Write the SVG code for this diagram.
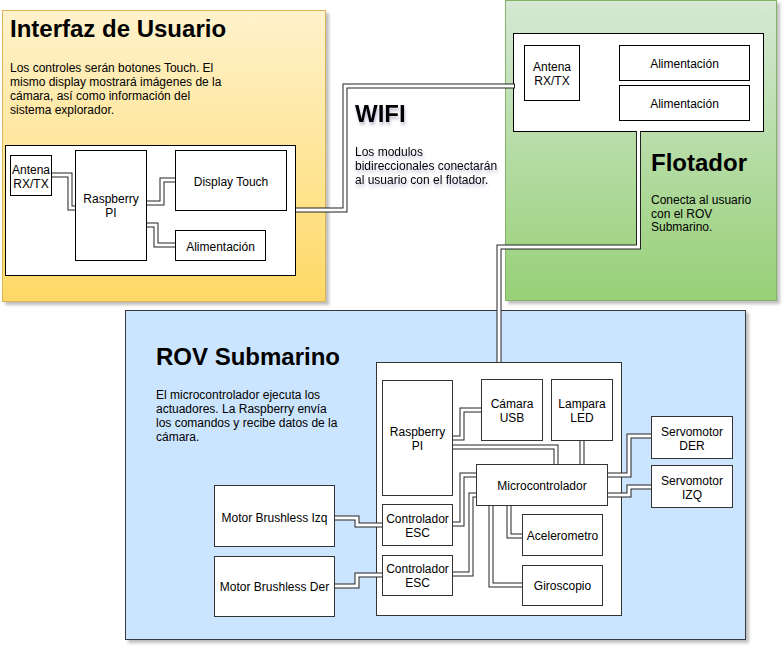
<svg xmlns="http://www.w3.org/2000/svg" width="783" height="648" viewBox="0 0 783 648">
<defs>
<linearGradient id="gYellow" x1="0" y1="0" x2="0" y2="1"><stop offset="0" stop-color="#fff2cc"/><stop offset="1" stop-color="#ffd966"/></linearGradient>
<linearGradient id="gGreen" x1="0" y1="0" x2="0" y2="1"><stop offset="0" stop-color="#d5e8d4"/><stop offset="1" stop-color="#97d077"/></linearGradient>
<filter id="shadow" x="-5%" y="-5%" width="110%" height="110%"><feDropShadow dx="3" dy="3" stdDeviation="1.5" flood-color="#000" flood-opacity="0.25"/></filter>
<filter id="tshadow" x="-10%" y="-20%" width="130%" height="150%"><feDropShadow dx="1" dy="3" stdDeviation="1.5" flood-color="#4a4a80" flood-opacity="0.35"/></filter>
</defs>
<style>
text{font-family:"Liberation Sans",Arial,sans-serif;fill:#000}
.h{font-size:24px;font-weight:bold}
.b{font-size:12px}
.n{font-size:12px;text-anchor:middle}
.box{fill:#fff;stroke:#000;stroke-width:1}
.rbox{fill:#fff;stroke:#333;stroke-width:1}
.lo{fill:none;stroke:#222;stroke-width:5;stroke-linejoin:miter}
.li{fill:none;stroke:#fff;stroke-width:3;stroke-linejoin:miter}
</style>

<g id="panel-interfaz">
<rect x="2.5" y="10.5" width="323" height="291" fill="url(#gYellow)" stroke="#d6b656" filter="url(#shadow)"/>
<text class="h" x="10" y="37">Interfaz de Usuario</text>
<text class="b" x="10"><tspan x="10" y="72">Los controles serán botones Touch. El</tspan><tspan x="10" y="86">mismo display mostrará imágenes de la</tspan><tspan x="10" y="100">cámara, así como información del</tspan><tspan x="10" y="114">sistema explorador.</tspan></text>
</g>
<g id="panel-flotador">
<rect x="505.5" y="0.5" width="271" height="300" fill="url(#gGreen)" stroke="#82b366" filter="url(#shadow)"/>
<text class="h" x="651" y="171">Flotador</text>
<text class="b"><tspan x="651" y="204">Conecta al usuario</tspan><tspan x="651" y="217.5">con el ROV</tspan><tspan x="651" y="231">Submarino.</tspan></text>
</g>
<g id="wifi-text" filter="url(#tshadow)">
<text class="h" x="355" y="122">WIFI</text>
<text class="b"><tspan x="355" y="156">Los modulos</tspan><tspan x="355" y="170">bidireccionales conectarán</tspan><tspan x="355" y="184">al usuario con el flotador.</tspan></text>
</g>
<g id="panel-rov">
<rect x="125.5" y="310.5" width="620" height="329" fill="#cce5ff" stroke="#36393d" filter="url(#shadow)"/>
<text class="h" x="156" y="365">ROV Submarino</text>
<text class="b"><tspan x="156" y="399">El microcontrolador ejecuta los</tspan><tspan x="156" y="413">actuadores. La Raspberry envía</tspan><tspan x="156" y="427">los comandos y recibe datos de la</tspan><tspan x="156" y="441">cámara.</tspan></text>
</g>

<g id="interfaz-container"><rect class="box" x="5.5" y="145.5" width="290" height="130"/></g>
<g id="flotador-container"><rect class="box" x="513.5" y="33.5" width="250" height="98"/></g>
<g id="rov-container"><rect class="rbox" x="376.5" y="362.5" width="245" height="253"/></g>

<g id="connectors">
<path class="lo" d="M51,175 H70 V208 H75"/><path class="li" d="M51,175 H70 V208 H75"/>
<path class="lo" d="M146,203 H162 V180 H175"/><path class="li" d="M146,203 H162 V180 H175"/>
<path class="lo" d="M146,225 H156 V245 H175"/><path class="li" d="M146,225 H156 V245 H175"/>
<path class="lo" d="M296,210 H345 V86 H515"/><path class="li" d="M296,210 H345 V86 H514"/>
<path class="lo" d="M638.5,131 V247 H499 V362"/><path class="li" d="M638.5,131 V247 H499 V362"/>
<path class="lo" d="M452,438 H462 V410 H481"/><path class="li" d="M452,438 H462 V410 H481"/>
<path class="lo" d="M452,447 H556 V464"/><path class="li" d="M452,447 H556 V464"/>
<path class="lo" d="M582,440 V464"/><path class="li" d="M582,440 V464"/>
<path class="lo" d="M607,475 H629 V436 H651"/><path class="li" d="M607,475 H629 V436 H651"/>
<path class="lo" d="M607,495 H629 V487 H651"/><path class="li" d="M607,495 H629 V487 H651"/>
<path class="lo" d="M476,475 H462 V524 H452"/><path class="li" d="M476,475 H462 V524 H452"/>
<path class="lo" d="M476,495 H471 V574 H452"/><path class="li" d="M476,495 H471 V574 H452"/>
<path class="lo" d="M509,505 V536 H522"/><path class="li" d="M509,505 V536 H522"/>
<path class="lo" d="M491,505 V585 H522"/><path class="li" d="M491,505 V585 H522"/>
<path class="lo" d="M334,518 H357 V525 H382"/><path class="li" d="M334,518 H357 V525 H382"/>
<path class="lo" d="M334,586 H357 V575 H382"/><path class="li" d="M334,586 H357 V575 H382"/>
</g>

<g id="ui-antena"><rect class="box" x="10.5" y="155.5" width="41" height="40"/><text class="n"><tspan x="31" y="174">Antena</tspan><tspan x="31" y="188">RX/TX</tspan></text></g>
<g id="ui-raspberry"><rect class="box" x="75.5" y="150.5" width="71" height="110"/><text class="n"><tspan x="111" y="203">Raspberry</tspan><tspan x="111" y="217">PI</tspan></text></g>
<g id="ui-display"><rect class="box" x="175.5" y="150.5" width="111" height="60"/><text class="n" x="231" y="186">Display Touch</text></g>
<g id="ui-alimentacion"><rect class="box" x="175.5" y="230.5" width="90" height="30"/><text class="n" x="220.5" y="251">Alimentación</text></g>

<g id="fl-antena"><rect class="box" x="524.5" y="45.5" width="55" height="55"/><text class="n"><tspan x="552" y="71">Antena</tspan><tspan x="552" y="85">RX/TX</tspan></text></g>
<g id="fl-alim1"><rect class="box" x="619.5" y="45.5" width="130" height="35"/><text class="n" x="684.5" y="68">Alimentación</text></g>
<g id="fl-alim2"><rect class="box" x="619.5" y="85.5" width="130" height="35"/><text class="n" x="684.5" y="108">Alimentación</text></g>

<g id="rov-raspberry"><rect class="rbox" x="382.5" y="380.5" width="70" height="115"/><text class="n"><tspan x="417.5" y="436">Raspberry</tspan><tspan x="417.5" y="450">PI</tspan></text></g>
<g id="rov-camara"><rect class="rbox" x="481.5" y="379.5" width="61" height="61"/><text class="n"><tspan x="512" y="408">Cámara</tspan><tspan x="512" y="422">USB</tspan></text></g>
<g id="rov-lampara"><rect class="rbox" x="551.5" y="379.5" width="61" height="61"/><text class="n"><tspan x="582" y="408">Lampara</tspan><tspan x="582" y="422">LED</tspan></text></g>
<g id="rov-micro"><rect class="rbox" x="476.5" y="464.5" width="131" height="41"/><text class="n" x="542" y="490">Microcontrolador</text></g>
<g id="rov-esc1"><rect class="rbox" x="382.5" y="504.5" width="70" height="41"/><text class="n"><tspan x="417.5" y="523">Controlador</tspan><tspan x="417.5" y="537">ESC</tspan></text></g>
<g id="rov-esc2"><rect class="rbox" x="382.5" y="555.5" width="70" height="40"/><text class="n"><tspan x="417.5" y="573">Controlador</tspan><tspan x="417.5" y="587">ESC</tspan></text></g>
<g id="rov-acelerometro"><rect class="rbox" x="522.5" y="514.5" width="80" height="41"/><text class="n" x="562.5" y="540">Acelerometro</text></g>
<g id="rov-giroscopio"><rect class="rbox" x="522.5" y="565.5" width="80" height="40"/><text class="n" x="562.5" y="590">Giroscopio</text></g>
<g id="rov-servo-der"><rect class="rbox" x="651.5" y="416.5" width="81" height="42"/><text class="n"><tspan x="692" y="436">Servomotor</tspan><tspan x="692" y="450">DER</tspan></text></g>
<g id="rov-servo-izq"><rect class="rbox" x="651.5" y="465.5" width="81" height="42"/><text class="n"><tspan x="692" y="485">Servomotor</tspan><tspan x="692" y="499">IZQ</tspan></text></g>
<g id="rov-motor-izq"><rect class="rbox" x="214.5" y="485.5" width="120" height="61"/><text class="n" x="274.5" y="522">Motor Brushless Izq</text></g>
<g id="rov-motor-der"><rect class="rbox" x="214.5" y="556.5" width="120" height="60"/><text class="n" x="274.5" y="591">Motor Brushless Der</text></g>
</svg>
